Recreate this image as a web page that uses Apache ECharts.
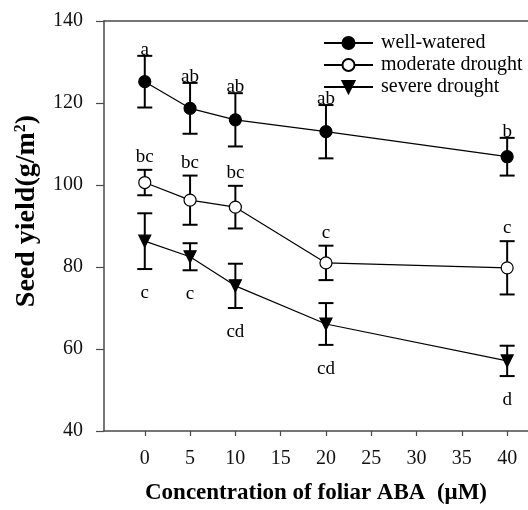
<!DOCTYPE html>
<html><head><meta charset="utf-8">
<script src="https://cdn.jsdelivr.net/npm/echarts@6/dist/echarts.min.js"></script>
<style>html,body{margin:0;padding:0;background:#fff}#c{width:528px;height:510px}</style>
</head><body><div id="c"></div>
<script>
const concentrations = [0, 5, 10, 20, 40];
const xTickValues = [0, 5, 10, 15, 20, 25, 30, 35, 40];
const seriesNames = ['well-watered', 'moderate drought', 'severe drought'];
const wellWatered = [125.2, 118.7, 115.9, 113.0, 106.9];
const wellWateredErr = [6.3, 6.2, 6.5, 6.5, 4.6];
const wellWateredLetters = ['a', 'ab', 'ab', 'ab', 'b'];
const moderateDrought = [100.6, 96.3, 94.6, 81.0, 79.8];
const moderateDroughtErr = [3.1, 6.0, 5.2, 4.2, 6.5];
const moderateDroughtLetters = ['bc', 'bc', 'bc', 'c', 'c'];
const severeDrought = [86.3, 82.5, 75.4, 66.1, 57.1];
const severeDroughtErr = [6.8, 3.3, 5.4, 5.1, 3.7];
const severeDroughtLetters = ['c', 'c', 'cd', 'cd', 'd'];

const SERIF = '"Liberation Serif", "Times New Roman", serif';
const AXIS_COLOR = '#4a4a4a';

function pairs(ys) { return concentrations.map((x, i) => [x, ys[i]]); }
function errData(ys, es) { return concentrations.map((x, i) => [x, ys[i], es[i]]); }

function errRender(letters, place, offset) {
  return function (params, api) {
    const x = api.value(0), m = api.value(1), e = api.value(2);
    const hi = api.coord([x, m + e]);
    const lo = api.coord([x, m - e]);
    const hw = 7.5;
    const st = { stroke: '#000', lineWidth: 2, fill: null };
    const ty = place === 'top' ? hi[1] + offset : lo[1] + offset;
    return {
      type: 'group',
      children: [
        { type: 'line', shape: { x1: hi[0], y1: hi[1], x2: lo[0], y2: lo[1] }, style: st },
        { type: 'line', shape: { x1: hi[0] - hw, y1: hi[1], x2: hi[0] + hw, y2: hi[1] }, style: st },
        { type: 'line', shape: { x1: lo[0] - hw, y1: lo[1], x2: lo[0] + hw, y2: lo[1] }, style: st },
        { type: 'text', x: hi[0], y: ty, style: { text: letters[params.dataIndex], font: '19px ' + SERIF, fill: '#000', align: 'center', verticalAlign: 'middle' } }
      ]
    };
  };
}

function lineSeries(name, ys, symbol, fill, rotate) {
  return {
    name: name, type: 'line', data: pairs(ys), z: 3,
    symbol: symbol, symbolSize: 12, symbolRotate: rotate || 0,
    showSymbol: true,
    lineStyle: { color: '#000', width: 1.2 },
    itemStyle: { color: fill, borderColor: '#000', borderWidth: 1.2 },
    emphasis: { disabled: true }
  };
}
function errSeries(ys, es, letters, place, offset) {
  return {
    type: 'custom', data: errData(ys, es), z: 2,
    encode: { x: 0, y: 1 },
    renderItem: errRender(letters, place, offset),
    silent: true
  };
}

const chart = echarts.init(document.getElementById('c'), null, { renderer: 'canvas' });
chart.setOption({
  animation: false,
  backgroundColor: '#fff',
  grid: { left: 104, right: 0, top: 21, bottom: 79, containLabel: false },
  legend: {
    data: seriesNames, orient: 'vertical', left: 318, top: 28,
    itemWidth: 49, itemHeight: 15, itemGap: 2,
    textStyle: { fontFamily: SERIF, fontSize: 20, color: '#000', padding: [0, 0, 0, 3] },
    selectedMode: false
  },
  xAxis: [{
    type: 'value', min: -4.5, max: 42.3, position: 'bottom',
    axisLine: { show: true, onZero: false, lineStyle: { color: AXIS_COLOR, width: 1.5 } },
    axisTick: { show: true, length: 5, customValues: xTickValues, lineStyle: { color: AXIS_COLOR, width: 1.2 } },
    axisLabel: { customValues: xTickValues, fontFamily: SERIF, fontSize: 20, color: '#111', margin: 18 },
    splitLine: { show: false },
    name: 'Concentration of foliar ABA  (\u03bcM)', nameLocation: 'middle', nameGap: 51,
    nameTextStyle: { fontFamily: SERIF, fontSize: 23, fontWeight: 'bold', color: '#000' }
  }, {
    type: 'value', min: -4.5, max: 42.3, position: 'top',
    axisLine: { show: true, onZero: false, lineStyle: { color: AXIS_COLOR, width: 1.5 } },
    axisTick: { show: false }, axisLabel: { show: false }, splitLine: { show: false }
  }],
  yAxis: {
    type: 'value', min: 40, max: 140, interval: 20,
    axisLine: { show: true, onZero: false, lineStyle: { color: AXIS_COLOR, width: 1.5 } },
    axisTick: { show: true, length: 8, lineStyle: { color: AXIS_COLOR, width: 1.2 } },
    axisLabel: { fontFamily: SERIF, fontSize: 20, color: '#111', margin: 21 },
    splitLine: { show: false },
    name: 'Seed yield(g/m{sup|2})', nameLocation: 'middle', nameGap: 63, nameRotate: 90,
    nameTextStyle: {
      fontFamily: SERIF, fontSize: 28, fontWeight: 'bold', color: '#000',
      padding: [0, 0, 0, 30],
      rich: { sup: { fontFamily: SERIF, fontSize: 16, fontWeight: 'bold', verticalAlign: 'top', color: '#000' } }
    }
  },
  series: [
    errSeries(wellWatered, wellWateredErr, wellWateredLetters, 'top', -6),
    errSeries(moderateDrought, moderateDroughtErr, moderateDroughtLetters, 'top', -13),
    errSeries(severeDrought, severeDroughtErr, severeDroughtLetters, 'bottom', 24),
    lineSeries(seriesNames[0], wellWatered, 'circle', '#000'),
    lineSeries(seriesNames[1], moderateDrought, 'circle', '#fff'),
    lineSeries(seriesNames[2], severeDrought, 'triangle', '#000', 180)
  ]
});
</script></body></html>
